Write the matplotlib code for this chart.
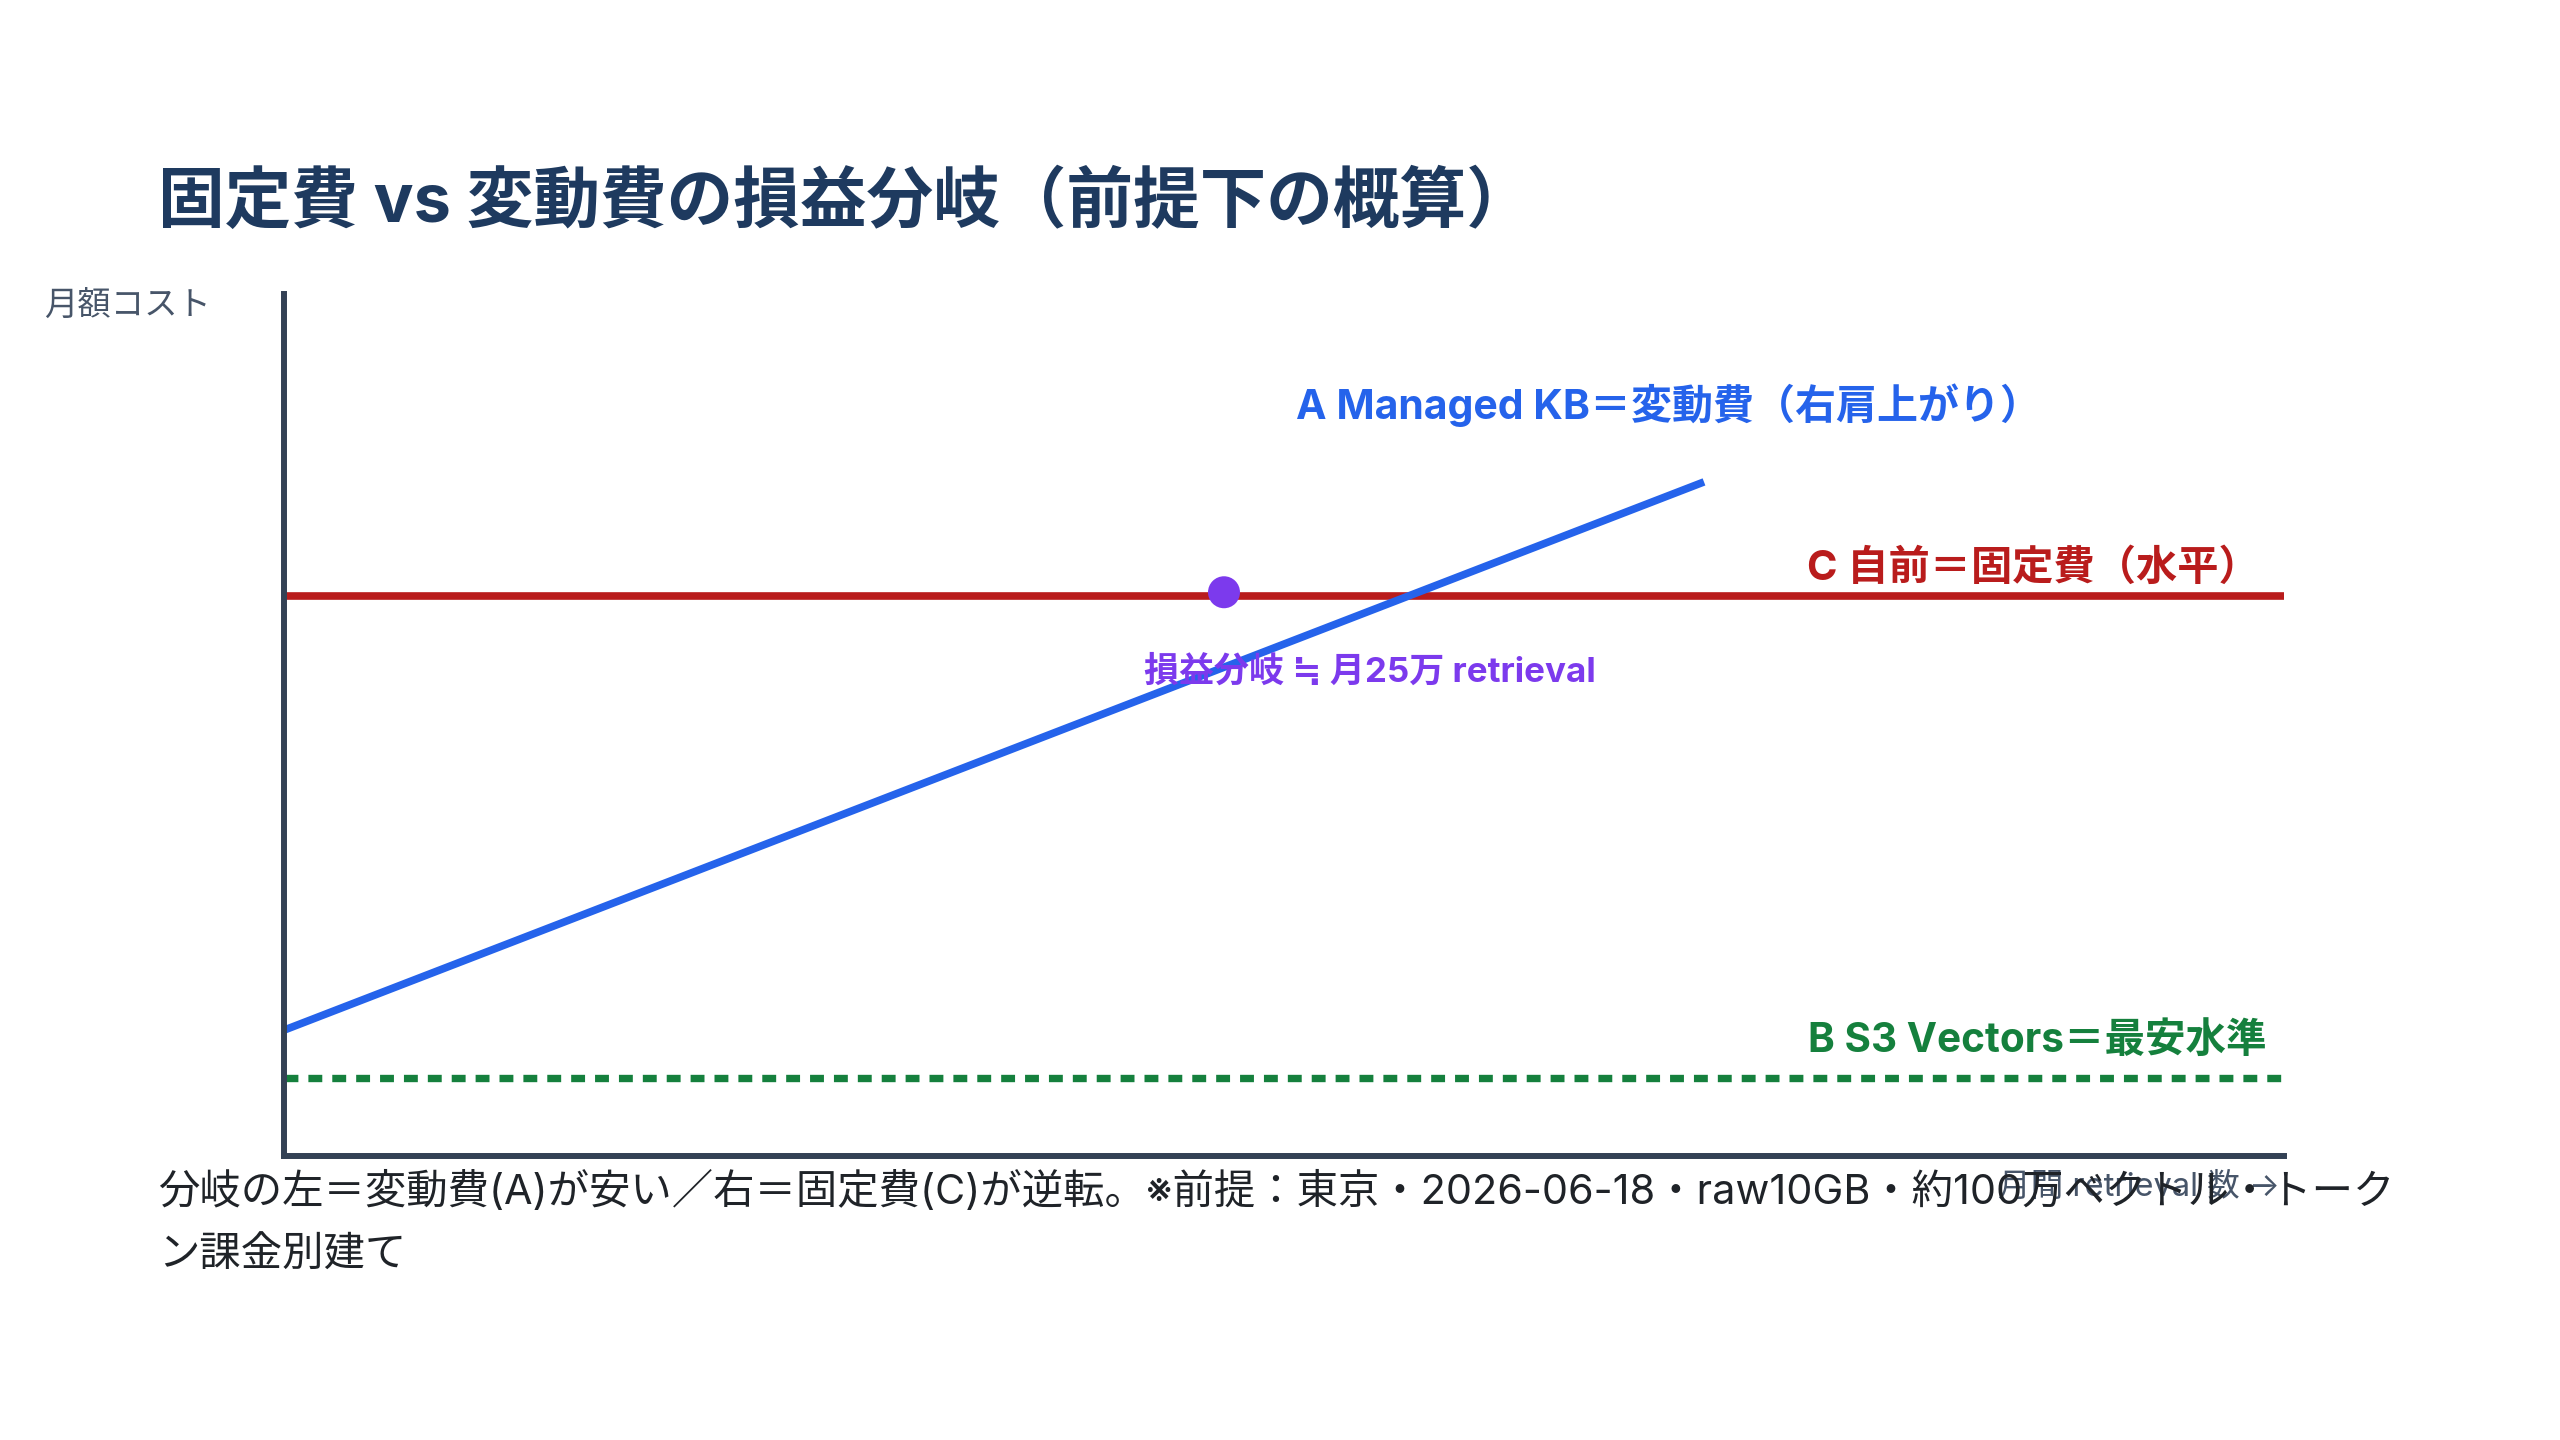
import matplotlib
matplotlib.use("Agg")
import matplotlib.pyplot as plt

plt.rcParams['font.family'] = ['Inter', 'Noto Sans CJK JP', 'DejaVu Sans']
plt.rcParams['lines.scale_dashes'] = False

# データ（相対スケール 0-100）
x_range = [0, 100]
managed_kb_x = [0, 71]
managed_kb_y = [14.6, 78.2]
self_host_y = 65        # C 自前 固定費
s3_vectors_y = 9        # B S3 Vectors
breakeven_x = 47
breakeven_y = 65.4

title = "固定費 vs 変動費の損益分岐（前提下の概算）"
label_a = "A Managed KB＝変動費（右肩上がり）"
label_b = "B S3 Vectors＝最安水準"
label_c = "C 自前＝固定費（水平）"
label_be = "損益分岐 ≒ 月25万 retrieval"
y_label = "月額コスト"
x_label = "月間 retrieval 数 →"
note = ("分岐の左＝変動費(A)が安い／右＝固定費(C)が逆転。※前提：東京・2026-06-18・raw10GB・約100万ベクトル・トーク\n"
        "ン課金別建て")

W, H = 2560, 1440
fig = plt.figure(figsize=(25.6, 14.4), dpi=100)
ax = fig.add_axes([284 / W, 284 / H, 2000 / W, 862 / H])
ax.set_xlim(0, 100)
ax.set_ylim(0, 100)
ax.set_xticks([])
ax.set_yticks([])
for s in ['top', 'right']:
    ax.spines[s].set_visible(False)
for s in ['left', 'bottom']:
    ax.spines[s].set_color('#334155')
    ax.spines[s].set_linewidth(4.3)

ax.plot(x_range, [self_host_y, self_host_y], color='#b91c1c', lw=5.5, solid_capstyle='butt')
ax.plot(x_range, [s3_vectors_y, s3_vectors_y], color='#15803d', lw=5.3,
        dashes=(10, 7.2), dash_capstyle='butt')
ax.plot(managed_kb_x, managed_kb_y, color='#2563eb', lw=5.5, solid_capstyle='butt')
ax.scatter([breakeven_x], [breakeven_y], s=530, color='#7c3aed', zorder=5,
           edgecolors='none')

ax.text(50.6, 87.1, label_a, color='#2563eb', fontsize=29.5, fontweight='bold',
        ha='left', va='center')
ax.text(98.8, 68.2, label_c, color='#b91c1c', fontsize=29.7, fontweight='bold',
        ha='right', va='center')
ax.text(99.1, 13.4, label_b, color='#15803d', fontsize=29.2, fontweight='bold',
        ha='right', va='center')
ax.text(43.0, 56.1, label_be, color='#7c3aed', fontsize=25.2, fontweight='bold',
        ha='left', va='center')

fig.text(158 / W, 1 - 204 / H, title, color='#1e3a5f', fontsize=48, fontweight='bold',
         ha='left', va='center')
fig.text(44 / W, 1 - 306 / H, y_label, color='#475569', fontsize=24, ha='left', va='center')
fig.text(2280 / W, 1 - 1187 / H, x_label, color='#475569', fontsize=23.5, ha='right', va='center')
fig.text(158 / W, 1 - 1223 / H, note, color='#1f2328', fontsize=29.8, ha='left', va='center',
         linespacing=1.8)

fig.savefig("out.png", dpi=100, facecolor='white')
